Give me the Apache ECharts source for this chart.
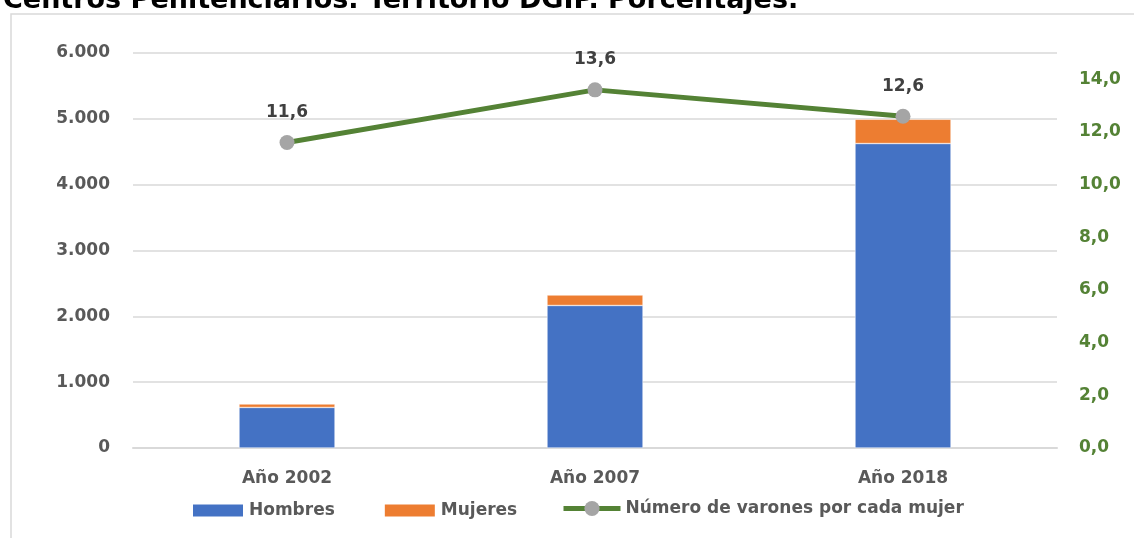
<!DOCTYPE html>
<html>
<head>
<meta charset="utf-8">
<title>Centros Penitenciarios</title>
<script src="https://cdn.jsdelivr.net/npm/echarts@6/dist/echarts.min.js"></script>
<style>
  html, body { margin: 0; padding: 0; background: #fff; }
  #chart { width: 1134px; height: 538px; }
</style>
</head>
<body>
<div id="chart"></div>
<script>
// datos
const years = ['Año 2002', 'Año 2007', 'Año 2018']
const hombres = [616, 2165, 4625]
const mujeres = [53, 159, 368]
const ratio = [11.6, 13.6, 12.6]

const chart = echarts.init(document.getElementById('chart'))
const font = 'DejaVu Sans'
const lineName = 'Número de varones por cada mujer'

// 6000 -> 6.000
const miles = v => String(v).replace(/\B(?=(\d{3})+(?!\d))/g, '.')
const coma = v => v.toFixed(1).replace('.', ',')
const legendText = { fontFamily: font, fontWeight: 'bold', fontSize: 17, color: '#595959' }

const option = {
  animation: false,
  textStyle: { fontFamily: font },
  title: {
    text: 'Centros Penitenciarios. Territorio DGIP. Porcentajes.',
    left: -2,
    top: -18,
    textStyle: { fontFamily: font, fontWeight: 'bold', fontSize: 27, color: '#000' }
  },
  graphic: [{
    type: 'rect',
    shape: { x: 11, y: 14, width: 1200, height: 600 },
    style: { fill: 'none', stroke: '#D9D9D9', lineWidth: 1.5 },
    silent: true
  }],
  grid: { left: 133, right: 77, top: 53, bottom: 90 },
  legend: [{
    // barras
    left: 191,
    top: 502,
    padding: 0,
    icon: 'rect',
    itemWidth: 52,
    itemHeight: 14,
    itemGap: 48,
    textStyle: legendText,
    data: ['Hombres', 'Mujeres']
  }, {
    // linea
    left: 561,
    top: 500,
    padding: 0,
    itemWidth: 57,
    itemHeight: 19,
    textStyle: legendText,
    data: [{ name: lineName, lineStyle: { width: 5, color: '#548235' } }]
  }],
  xAxis: {
    type: 'category',
    data: years,
    axisTick: { show: false },
    axisLine: { lineStyle: { color: '#D9D9D9', width: 2 } },
    axisLabel: { fontFamily: font, fontWeight: 'bold', fontSize: 17, color: '#595959', margin: 22 }
  },
  yAxis: [{
    type: 'value',
    min: 0,
    max: 6000,
    interval: 1000,
    axisLine: { show: false },
    axisTick: { show: false },
    splitLine: { lineStyle: { color: '#D9D9D9', width: 1.5 } },
    axisLabel: { fontFamily: font, fontWeight: 'bold', fontSize: 17, color: '#595959', margin: 23, formatter: miles }
  }, {
    type: 'value',
    min: 0,
    max: 15,
    interval: 2,
    axisLine: { show: false },
    axisTick: { show: false },
    splitLine: { show: false },
    axisLabel: {
      fontFamily: font, fontWeight: 'bold', fontSize: 17, color: '#548235', margin: 22,
      formatter: v => (v % 2 === 0 ? coma(v) : '')
    }
  }],
  series: [{
    name: 'Hombres',
    type: 'bar',
    stack: 'total',
    barWidth: 96,
    data: hombres,
    itemStyle: { color: '#4472C4', borderColor: '#fff', borderWidth: 0.5 }
  }, {
    name: 'Mujeres',
    type: 'bar',
    stack: 'total',
    data: mujeres,
    itemStyle: { color: '#ED7D31', borderColor: '#fff', borderWidth: 0.5 }
  }, {
    name: lineName,
    type: 'line',
    yAxisIndex: 1,
    data: ratio,
    symbol: 'circle',
    symbolSize: 15,
    lineStyle: { color: '#548235', width: 5 },
    itemStyle: { color: '#A5A5A5' },
    label: {
      show: true,
      position: 'top',
      distance: 14,
      fontFamily: font,
      fontWeight: 'bold',
      fontSize: 17,
      color: '#404040',
      formatter: p => coma(p.value)
    }
  }]
}

chart.setOption(option)
window.addEventListener('resize', () => chart.resize())
</script>
</body>
</html>
